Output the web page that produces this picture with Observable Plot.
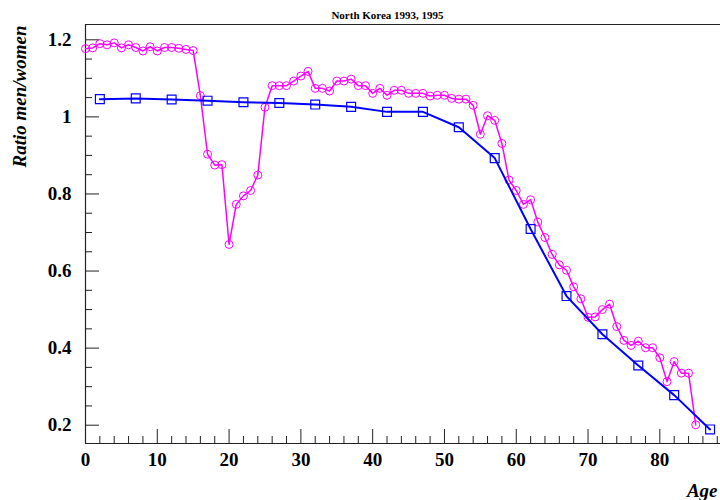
<!DOCTYPE html>
<html><head><meta charset="utf-8">
<script src="https://cdn.jsdelivr.net/npm/d3@7"></script>
<script src="https://cdn.jsdelivr.net/npm/@observablehq/plot@0.6"></script>
<style>html,body{margin:0;padding:0;background:#fff;} #chart svg{display:block}</style>
</head><body><div id="chart"></div>
<script>
const title = "North Korea 1993, 1995";
const yTitle = "Ratio men/women";
const xTitle = "Age";

// Series 1 (blue squares, 5-year groups)
const agesBlue = [2,7,12,17,22,27,32,37,42,47,52,57,62,67,72,77,82,87];
const ratioBlue = [1.046,1.048,1.045,1.042,1.038,1.036,1.032,1.026,1.013,1.013,0.973,0.893,0.709,0.535,0.436,0.355,0.278,0.189];

// Series 2 (magenta circles, single years)
const agesMagenta = [0,1,2,3,4,5,6,7,8,9,10,11,12,13,14,15,16,17,18,19,20,21,22,23,24,25,26,27,28,29,30,31,32,33,34,35,36,37,38,39,40,41,42,43,44,45,46,47,48,49,50,51,52,53,54,55,56,57,58,59,60,61,62,63,64,65,66,67,68,69,70,71,72,73,74,75,76,77,78,79,80,81,82,83,84,85];
const ratioMagenta = [
1.177,1.179,1.190,1.187,1.192,1.179,1.187,1.180,1.171,1.182,
1.171,1.180,1.180,1.178,1.175,1.172,1.055,0.903,0.875,0.876,
0.669,0.773,0.795,0.809,0.849,1.025,1.081,1.081,1.081,1.093,
1.106,1.118,1.074,1.074,1.067,1.093,1.093,1.098,1.081,1.081,
1.061,1.074,1.056,1.069,1.069,1.061,1.061,1.061,1.054,1.056,
1.056,1.048,1.046,1.046,1.030,0.955,1.003,0.991,0.931,0.836,
0.809,0.773,0.785,0.727,0.687,0.643,0.616,0.602,0.559,0.528,
0.480,0.481,0.500,0.514,0.456,0.420,0.407,0.418,0.401,0.401,
0.375,0.313,0.365,0.335,0.335,0.201];

// Axes
const xDomain = [0, 88.45];
const yDomain = [0.1525, 1.2397];
const xMajor = [0,10,20,30,40,50,60,70,80];
const xTickLabels = ["0","10","20","30","40","50","60","70","80"];
const xMinor = [2,4,6,8,12,14,16,18,22,24,26,28,32,34,36,38,42,44,46,48,52,54,56,58,62,64,66,68,72,74,76,78,82,84,86,88];
const yMajor = [0.2,0.4,0.6,0.8,1.0,1.2];
const yTickLabels = ["0.2","0.4","0.6","0.8","1","1.2"];
const yMinor = [0.25,0.3,0.35,0.45,0.5,0.55,0.65,0.7,0.75,0.85,0.9,0.95,1.05,1.1,1.15];

const blue = agesBlue.map((a,i) => ({age:a, ratio:ratioBlue[i]}));
const magenta = agesMagenta.map((a,i) => ({age:a, ratio:ratioMagenta[i]}));

const axisColor = "#222";
const tickFont = {fontSize: 19, fontWeight: "bold", fill: "#000"};
const labelFont = {fontSize: 19, fontWeight: "bold", fontStyle: "italic", fill: "#000"};

const chart = Plot.plot({
  width: 720,
  height: 500,
  marginLeft: 85,
  marginRight: 0,
  marginTop: 24,
  marginBottom: 57,
  style: {fontFamily: "'Liberation Serif', 'DejaVu Serif', serif", background: "#fff"},
  x: {domain: xDomain},
  y: {domain: yDomain},
  marks: [
    Plot.ruleX([xDomain[0]], {stroke: axisColor, strokeWidth: 1.2}),
    Plot.ruleY([yDomain[0]], {stroke: axisColor, strokeWidth: 1.2}),
    Plot.ruleY([yDomain[1]], {stroke: axisColor, strokeWidth: 1.2}),
    Plot.axisX({ticks: xMajor, tickSize: 14, dy: -14, tickPadding: 9, stroke: axisColor, label: null,
      tickFormat: d => xTickLabels[xMajor.indexOf(d)], ...tickFont}),
    Plot.axisX({ticks: xMinor, tickSize: 7, dy: -7, stroke: axisColor, label: null, tickFormat: () => ""}),
    Plot.axisY({ticks: yMajor, tickSize: 14, dx: 14, tickPadding: 14, stroke: axisColor, label: null,
      tickFormat: d => yTickLabels[yMajor.indexOf(d)], ...tickFont}),
    Plot.axisY({ticks: yMinor, tickSize: 7, dx: 7, stroke: axisColor, label: null, tickFormat: () => ""}),
    Plot.line(magenta, {x: "age", y: "ratio", stroke: "#ff00ff", strokeWidth: 1.5}),
    Plot.dot(magenta, {x: "age", y: "ratio", r: 4, stroke: "#ff00ff", strokeWidth: 1, fill: "none"}),
    Plot.line(blue, {x: "age", y: "ratio", stroke: "#0000ff", strokeWidth: 2}),
    Plot.dot(blue, {x: "age", y: "ratio", symbol: "square", r: 5, stroke: "#0000ff", strokeWidth: 1.2, fill: "none"}),
    Plot.text([title], {text: d => d, frameAnchor: "top", lineAnchor: "middle", dx: -15.5, dy: -9.3,
      fontSize: 11, fontWeight: "bold", fill: "#000"}),
    Plot.text([yTitle], {text: d => d, frameAnchor: "top-left", rotate: -90, textAnchor: "end", lineAnchor: "middle",
      dx: -65.5, dy: 1, ...labelFont}),
    Plot.text([xTitle], {text: d => d, frameAnchor: "bottom-right", textAnchor: "end", lineAnchor: "top",
      dx: -3, dy: 40, ...labelFont})
  ]
});
document.getElementById("chart").appendChild(chart);
</script>
</body></html>
